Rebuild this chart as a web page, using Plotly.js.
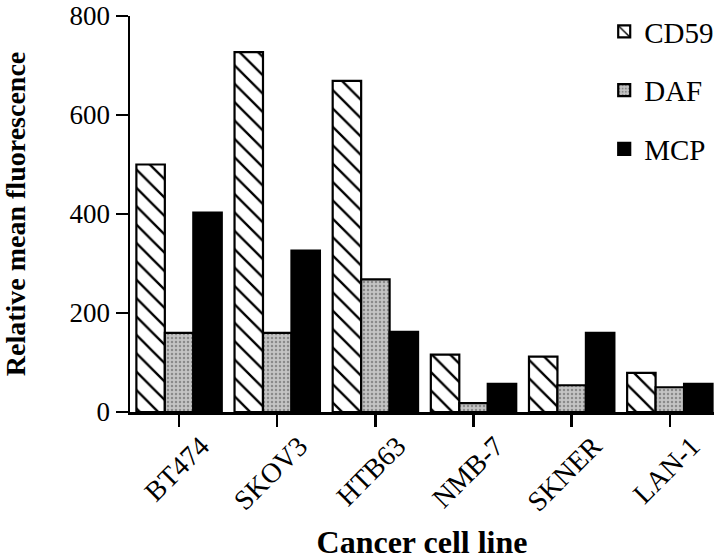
<!DOCTYPE html>
<html>
<head>
<meta charset="utf-8">
<script src="https://cdn.plot.ly/plotly-3.0.1.min.js"></script>
<style>html,body{margin:0;padding:0;background:#fff}#chart{width:720px;height:560px}</style>
</head>
<body>
<div id="chart"></div>
<script>
const cellLines = ["BT474", "SKOV3", "HTB63", "NMB-7", "SKNER", "LAN-1"];
const cd59 = [500, 727, 669, 116, 112, 79];
const daf  = [160, 160, 268, 18, 54, 50];
const mcp  = [403, 326, 162, 57, 160, 57];
const yTicks = [0, 200, 400, 600, 800];

const fontFam = '"Liberation Serif", "Times New Roman", serif';
const outline = {color: '#000', width: 2.2};

const traces = [
  {type: 'bar', name: 'CD59', x: cellLines, y: cd59, legendgroup: 'a',
   marker: {color: '#fff', line: outline,
            pattern: {shape: '\\', fgcolor: '#000', bgcolor: '#fff', size: 13, solidity: 0.18}}},
  {type: 'bar', name: 'DAF', x: cellLines, y: daf, legendgroup: 'b',
   marker: {color: '#b8b8b8', line: outline,
            pattern: {shape: '.', fgcolor: '#8a8a8a', bgcolor: '#c4c4c4', size: 4, solidity: 0.3}}},
  {type: 'bar', name: 'MCP', x: cellLines, y: mcp, legendgroup: 'c',
   marker: {color: '#000', line: outline}}
];

const layout = {
  width: 720, height: 560,
  margin: {l: 130, r: 6, t: 16, b: 148, autoexpand: false},
  paper_bgcolor: '#fff', plot_bgcolor: '#fff',
  font: {family: fontFam, color: '#000', size: 26},
  barmode: 'group', bargap: 0.13, bargroupgap: 0,
  showlegend: true,
  legend: {x: 0.812, y: 1.025, xanchor: 'left', yanchor: 'top',
           font: {family: fontFam, size: 29, color: '#000'},
           traceorder: 'grouped', tracegroupgap: 18, bgcolor: 'rgba(0,0,0,0)'},
  xaxis: {
    type: 'category', range: [-0.5, 5.45],
    showline: true, linecolor: '#000', linewidth: 2.5,
    ticks: 'outside', ticklen: 12, tickwidth: 2.5, tickcolor: '#000',
    tickangle: -45, tickfont: {family: fontFam, size: 28},
    ticklabelshift: 22, ticklabelstandoff: -8,
    showgrid: false, zeroline: false,
    title: {text: '<b>Cancer cell line</b>', font: {family: fontFam, size: 32}, standoff: 17}
  },
  yaxis: {
    range: [0, 800], tickvals: yTicks, ticktext: yTicks.map(String),
    showline: true, linecolor: '#000', linewidth: 2.5,
    ticks: 'outside', ticklen: 12, tickwidth: 2.5, tickcolor: '#000',
    tickfont: {family: fontFam, size: 27},
    showgrid: false, zeroline: false,
    title: {text: '<b>Relative mean fluorescence</b>', font: {family: fontFam, size: 28}, standoff: 43}
  }
};

Plotly.newPlot('chart', traces, layout, {displayModeBar: false, staticPlot: true});
</script>
</body>
</html>
